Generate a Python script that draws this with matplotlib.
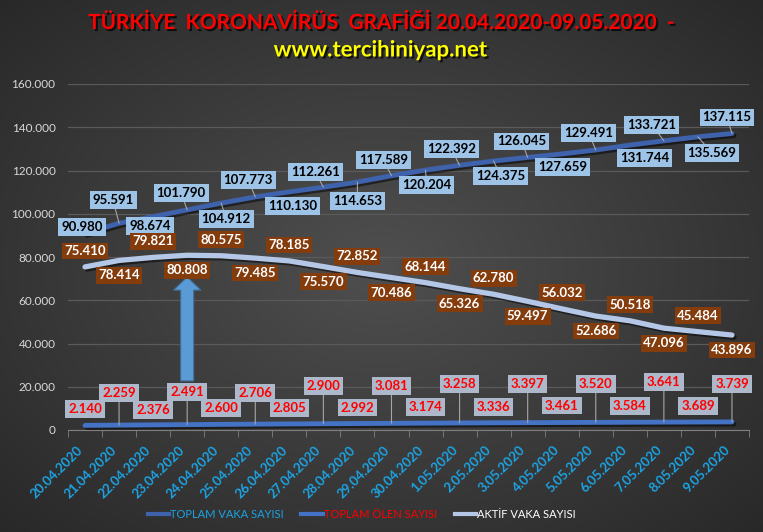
import numpy as np
import matplotlib
matplotlib.use("Agg")
import matplotlib.pyplot as plt
import matplotlib.patheffects as pe
from matplotlib.lines import Line2D
from matplotlib.patches import FancyArrow

plt.rcParams['font.family'] = ['Lato', 'DejaVu Sans']

dates = ["20.04.2020", "21.04.2020", "22.04.2020", "23.04.2020", "24.04.2020",
         "25.04.2020", "26.04.2020", "27.04.2020", "28.04.2020", "29.04.2020",
         "30.04.2020", "1.05.2020", "2.05.2020", "3.05.2020", "4.05.2020",
         "5.05.2020", "6.05.2020", "7.05.2020", "8.05.2020", "9.05.2020"]
total_cases = [90980, 95591, 98674, 101790, 104912, 107773, 110130, 112261, 114653, 117589,
               120204, 122392, 124375, 126045, 127659, 129491, 131744, 133721, 135569, 137115]
total_deaths = [2140, 2259, 2376, 2491, 2600, 2706, 2805, 2900, 2992, 3081,
                3174, 3258, 3336, 3397, 3461, 3520, 3584, 3641, 3689, 3739]
active_cases = [75410, 78414, 79821, 80808, 80575, 79485, 78185, 75570, 72852, 70486,
                68144, 65326, 62780, 59497, 56032, 52686, 50518, 47096, 45484, 43896]
series_names = ["TOPLAM VAKA SAYISI", "TOPLAM ÖLEN SAYISI", "AKTİF VAKA SAYISI"]

# label offsets in pixels (dx, dy up)
total_off = [(-3, 6), (-6, 23), (-3, -9), (-6, 17), (5, -16), (-7, 17), (3, -14), (-8, 15),
             (0, -19), (-8, 16), (1, -15), (-8, 16), (7, -15), (-6, 16), (1, -13), (-7, 17),
             (15, -13), (-12, 16), (14, -16), (-5, 16)]
active_dy = [16 if i % 2 == 0 else -15 for i in range(20)]
death_dy = [16, 32, 15, 33, 16, 31, 16, 38, 16, 37, 16, 39, 16, 39, 17, 38, 16, 40, 16, 38]

def fmt(v):
    return f"{int(v):,}".replace(",", ".")

W, H = 763, 532
fig = plt.figure(figsize=(W / 100, H / 100), dpi=100)

# dark radial background
bg = fig.add_axes([0, 0, 1, 1], zorder=-10)
yy, xx = np.mgrid[0:1:200j, 0:1:300j]
r = np.sqrt(((xx - 0.5) / 0.75) ** 2 + ((yy - 0.5) / 0.75) ** 2)
shade = np.clip(0.31 - 0.16 * r, 0.15, 0.33)
bg.imshow(np.dstack([shade] * 3), aspect='auto', extent=[0, 1, 0, 1])
bg.axis('off')

ax = fig.add_axes([68 / W, 1 - 430 / H, (749 - 68) / W, (430 - 84) / H])
ax.set_facecolor('none')
x = np.arange(len(dates))
ax.set_xlim(-0.5, len(dates) - 0.5)
ax.set_ylim(0, 160000)

yt = np.arange(0, 160001, 20000)
ax.set_yticks(yt)
ax.set_yticklabels([fmt(v) for v in yt], color='#D9D9D9', fontsize=8.5)
ax.grid(axis='y', color='#5A5A5A', linewidth=0.9)
ax.set_axisbelow(True)
for s in ['top', 'right', 'left']:
    ax.spines[s].set_visible(False)
ax.spines['bottom'].set_color('#7F7F7F')
ax.tick_params(axis='y', length=0, pad=9)
ax.set_xticks(x)
ax.set_xticklabels(dates, rotation=45, ha='right', va='top', color='#1CA3E3',
                   fontsize=9.5, fontweight='bold')
ax.set_xticks(np.arange(-0.5, len(dates), 1), minor=True)
ax.tick_params(axis='x', which='major', length=0, pad=10)
ax.tick_params(axis='x', which='minor', length=5, color='#7F7F7F')

shadow = [pe.SimpleLineShadow(offset=(1.5, -1.5), shadow_color='black', alpha=0.5), pe.Normal()]
ax.plot(x, total_cases, color='#3F62AC', linewidth=3.5, solid_capstyle='round',
        path_effects=shadow, zorder=3)
ax.plot(x, total_deaths, color='#4472C4', linewidth=3.5, solid_capstyle='round',
        path_effects=shadow, zorder=3)
ax.plot(x, active_cases, color='#B4C7E7', linewidth=3.8, solid_capstyle='round',
        path_effects=shadow, zorder=3)

# arrow pointing at the peak of active cases
ax.add_patch(FancyArrow(3, 22700, 0, 48000, width=0.38, head_width=0.8, head_length=6000,
                        length_includes_head=True, facecolor='#5B9BD5', edgecolor='#41719C',
                        linewidth=0.8, zorder=4))

lead = dict(arrowstyle='-', color='#A6A6A6', lw=0.8, shrinkA=0, shrinkB=0)
for i, v in enumerate(total_cases):
    dx, dy = total_off[i]
    ax.annotate(fmt(v), (i, v), xytext=(dx, dy), textcoords='offset pixels',
                ha='center', va='center', fontsize=9.5, fontweight='bold', color='black',
                bbox=dict(boxstyle='square,pad=0.22', facecolor='#9DC3E6', edgecolor='none'),
                arrowprops=lead if abs(dy) > 14 else None, zorder=5)
for i, v in enumerate(active_cases):
    ax.annotate(fmt(v), (i, v), xytext=(0, active_dy[i]), textcoords='offset pixels',
                ha='center', va='center', fontsize=9.5, fontweight='bold', color='white',
                bbox=dict(boxstyle='square,pad=0.18', facecolor='#843C0C', edgecolor='none'),
                zorder=5)
for i, v in enumerate(total_deaths):
    ax.annotate(fmt(v), (i, v), xytext=(0, death_dy[i]), textcoords='offset pixels',
                ha='center', va='center', fontsize=9.5, fontweight='bold', color='#FF0000',
                bbox=dict(boxstyle='square,pad=0.22', facecolor='#ADB9CA', edgecolor='none'),
                arrowprops=lead if i % 2 == 1 else None, zorder=5)

title_fx = [pe.SimplePatchShadow(offset=(1.5, -1.5), shadow_rgbFace='black', alpha=0.7), pe.Normal()]
fig.text(381 / W, 1 - 23 / H, "TÜRKİYE  KORONAVİRÜS  GRAFİĞİ 20.04.2020-09.05.2020  -",
         ha='center', va='center', color='#FF0000', fontsize=15, fontweight='bold',
         path_effects=title_fx)
fig.text(381 / W, 1 - 50 / H, "www.tercihiniyap.net", ha='center', va='center',
         color='#FFFF00', fontsize=16, fontweight='bold', path_effects=title_fx)

handles = [Line2D([], [], color=c, linewidth=3) for c in ['#3F62AC', '#4472C4', '#B4C7E7']]
fig.legend(handles, series_names, loc='center', bbox_to_anchor=(0.474, 1 - 514 / H), ncol=3,
           frameon=False, labelcolor=['#1CA3E3', '#FF0000', 'white'],
           handlelength=1.9, handletextpad=0.1, columnspacing=1.6,
           prop={'family': 'Lato', 'size': 8})

fig.savefig("out.png", dpi=100)
